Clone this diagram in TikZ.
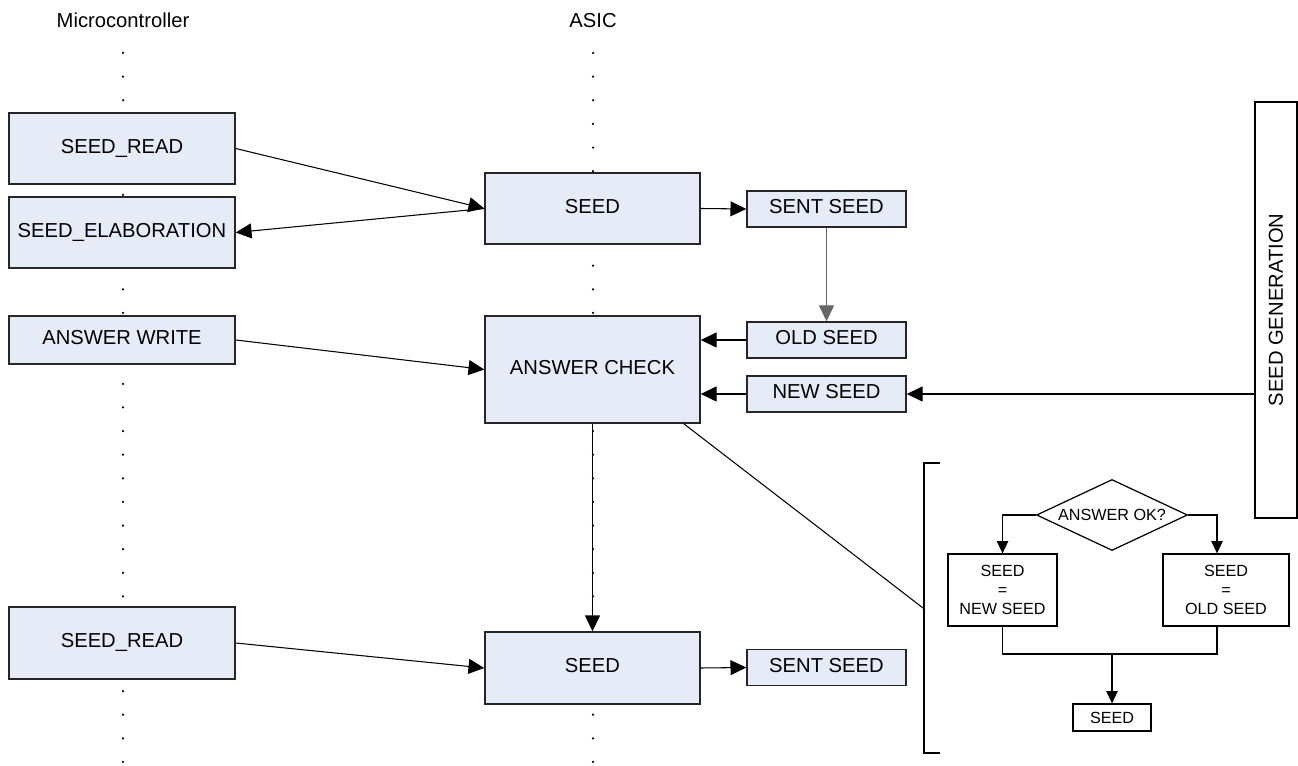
\documentclass[tikz,border=0pt]{standalone}
\usepackage{fontspec}
\setmainfont{Liberation Sans}
\usepackage{xcolor}
\usepackage{tikz}
\usetikzlibrary{arrows.meta, positioning, calc, shapes.geometric}
\definecolor{boxfill}{RGB}{230,236,247}

\begin{document}
\begin{tikzpicture}[
  every node/.style={font=\fontsize{11.5}{13.8}\selectfont},
  blk/.style={draw=black!85, line width=0.8pt, fill=boxfill, inner sep=0pt,
    text height=0.75em, text depth=0.2em},
  flow/.style={draw, line width=0.7pt, fill=white, inner sep=0pt, align=center,
    font=\fontsize{9.2}{11}\selectfont},
  arr/.style={-{Triangle[length=9pt,width=8.5pt]}, line width=0.6pt},
  sarr/.style={-{Triangle[length=7pt,width=6.5pt]}, line width=0.6pt}
]
  \useasboundingbox (0,0) rectangle (25.96,15.3);
  % Column titles
  \node (mcu) at (2.46,14.89) {Microcontroller};
  \node (asic) at (11.86,14.89) {ASIC};
  % Dotted lifelines
  \foreach \k in {0,...,30} {
    \fill (2.46,{14.24-0.4726*\k}) circle (0.025);
    \fill (11.86,{14.24-0.4726*\k}) circle (0.025);
  }
  % Microcontroller states
  \node[blk, minimum width=4.52cm, minimum height=1.42cm] (sread) at (2.44,12.33) {SEED\_READ};
  \node[blk, minimum width=4.52cm, minimum height=1.42cm] (selab) at (2.44,10.65) {SEED\_ELABORATION};
  \node[blk, minimum width=4.52cm, minimum height=0.96cm] (awrite) at (2.44,8.5) {ANSWER WRITE};
  \node[blk, minimum width=4.52cm, minimum height=1.44cm] (sreadb) at (2.44,2.44) {SEED\_READ};
  % ASIC states
  \node[blk, minimum width=4.3cm, minimum height=1.42cm] (seed) at (11.85,11.13) {SEED};
  \node[blk, minimum width=4.3cm, minimum height=2.14cm] (check) at (11.85,7.91) {ANSWER CHECK};
  \node[blk, minimum width=4.3cm, minimum height=1.44cm] (seedb) at (11.85,1.94) {SEED};
  % Seed registers
  \node[blk, minimum width=3.18cm, minimum height=0.72cm] (sent) at (16.53,11.12) {SENT SEED};
  \node[blk, minimum width=3.18cm, minimum height=0.72cm] (old) at (16.53,8.5) {OLD SEED};
  \node[blk, minimum width=3.18cm, minimum height=0.72cm] (new) at (16.53,7.42) {NEW SEED};
  \node[blk, minimum width=3.18cm, minimum height=0.72cm] (sentb) at (16.53,1.95) {SENT SEED};
  % Seed generator
  \node[draw, line width=0.8pt, rotate=90, minimum width=8.32cm, minimum height=0.84cm,
    inner sep=0pt] (gen) at (25.52,9.1) {SEED GENERATION};
  % Handshake arrows
  \draw[arr] (sread.east) -- (seed.west);
  \draw[arr] (seed.west) -- (selab.east);
  \draw[arr] (awrite.east) -- (check.west);
  \draw[arr] (sreadb.east) -- (seedb.west);
  \draw[arr] (seed.east) -- (sent.west);
  \draw[arr] (seedb.east) -- (sentb.west);
  \draw[arr, draw=black!60, line width=0.5pt] (sent.south) -- (old.north);
  \draw[arr] (old.west) -- (old.west -| check.east);
  \draw[arr] (new.west) -- (new.west -| check.east);
  \draw[arr] (gen.north |- new.east) -- (new.east);
  \draw[arr] (check.south) -- (seedb.north);
  % Zoom on answer check
  \coordinate (brk) at (18.46,3.14);
  \draw[line width=0.6pt] ($(check.south east)+(-0.34,0)$) -- (brk);
  \draw[line width=0.8pt] (18.80,6.04) -- (18.48,6.04) -- (18.48,0.24) -- (18.80,0.24);
  % Flowchart
  \node[flow, diamond, aspect=2.1, minimum width=3.02cm, minimum height=1.42cm] (ok) at (22.24,5.0) {ANSWER OK?};
  \node[flow, minimum width=2.18cm, minimum height=1.44cm] (isnew) at (20.05,3.5) {SEED\\=\\NEW SEED};
  \node[flow, minimum width=2.52cm, minimum height=1.44cm] (isold) at (24.52,3.5) {SEED\\=\\OLD SEED};
  \node[flow, minimum width=1.56cm, minimum height=0.54cm] (fseed) at (22.24,0.95) {SEED};
  \coordinate (join) at (22.24,2.22);
  \draw[sarr] (ok.west) -| (isnew.north);
  \draw[sarr] (ok.east) -| ($(isold.north)+(-0.18,0)$);
  \draw[line width=0.6pt] (isnew.south) |- (join) -| ($(isold.south)+(-0.18,0)$);
  \draw[sarr] (join) -- (fseed.north);
\end{tikzpicture}
\end{document}
